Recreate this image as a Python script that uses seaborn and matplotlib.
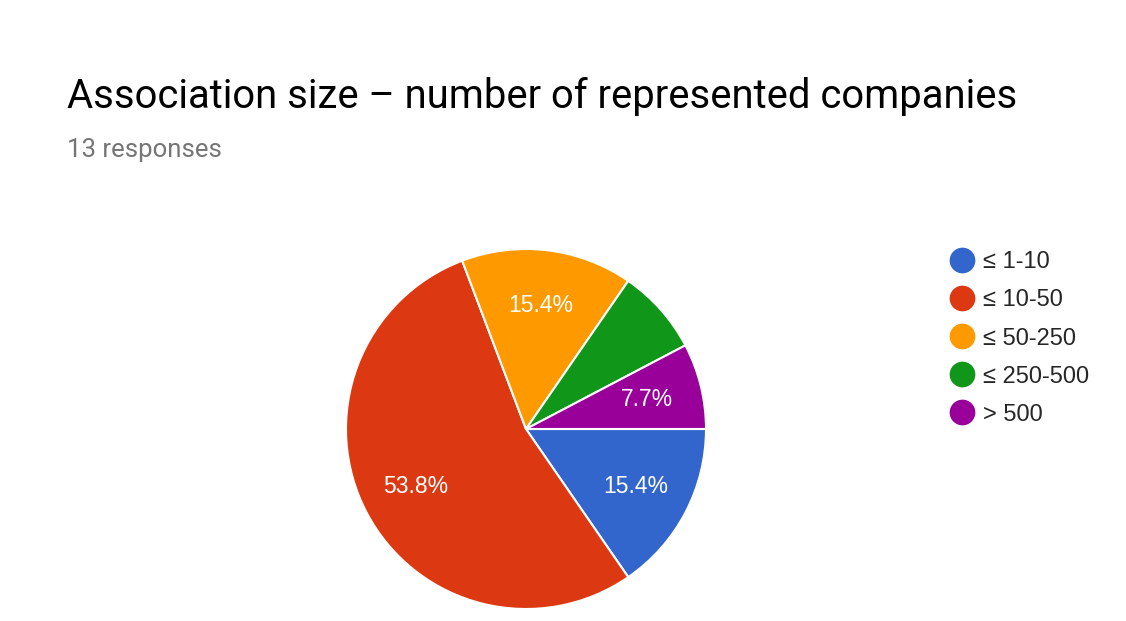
"""Pie chart: association size - number of represented companies"""

import matplotlib.pyplot as plt
import seaborn as sns
from matplotlib.lines import Line2D

categories = ["≤ 1-10", "≤ 10-50", "≤ 50-250", "≤ 250-500", "> 500"]
counts = [2, 7, 2, 1, 1]
colors = ["#3366cc", "#dc3912", "#ff9900", "#109618", "#990099"]
hidden_labels = ["≤ 250-500"]  # slice too small for a label in the original

sns.set_theme(style="white")
plt.rcParams["font.family"] = ["Roboto", "DejaVu Sans"]
arial = ["Liberation Sans", "DejaVu Sans"]

W, H = 1126, 621
fig = plt.figure(figsize=(W / 100, H / 100), dpi=100)

# pie axes: centre (526, 429) px, radius 180 px
cx, cy, r = 526, 429, 180
ax = fig.add_axes([(cx - r) / W, (H - cy - r) / H, 2 * r / W, 2 * r / H])
palette = sns.color_palette(colors)
wedges, texts, autotexts = ax.pie(
    counts,
    colors=palette,
    startangle=0,
    counterclock=False,
    autopct="%1.1f%%",
    pctdistance=0.69,
    wedgeprops=dict(edgecolor="white", linewidth=1.5),
    textprops=dict(color="white", fontsize=16.5, family=arial),
)
for cat, t in zip(categories, autotexts):
    if cat in hidden_labels:
        t.set_visible(False)
ax.set_xlim(-1, 1)
ax.set_ylim(-1, 1)
ax.set_aspect("equal")
ax.axis("off")

fig.text(67 / W, 1 - 108 / H, "Association size – number of represented companies",
         fontsize=28.8, color="black", va="baseline", ha="left")
fig.text(67 / W, 1 - 157 / H, "13 responses",
         fontsize=18.5, color="#757575", va="baseline", ha="left")

handles = [
    Line2D([], [], marker="o", linestyle="", markersize=17.5, markerfacecolor=c, markeredgecolor=c)
    for c in colors
]
fig.legend(
    handles,
    categories,
    loc="upper left",
    bbox_to_anchor=(935 / W, 1 - 242 / H),
    frameon=False,
    prop=dict(family=arial, size=17),
    labelspacing=0.68,
    handletextpad=0.15,
    handlelength=1.5,
    borderaxespad=0,
)

fig.savefig("out.png", dpi=100)
